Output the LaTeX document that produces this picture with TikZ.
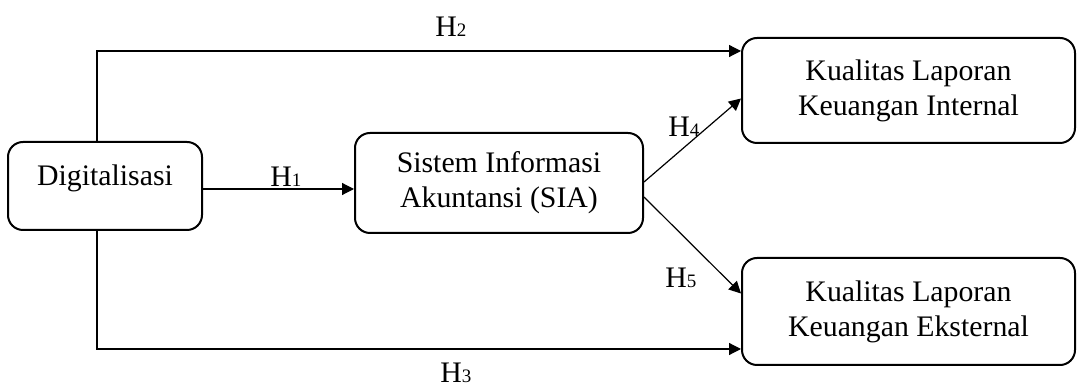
\documentclass[tikz,border=0pt]{standalone}
\usepackage{fontspec}
\setmainfont{Liberation Serif}
\usetikzlibrary{arrows.meta}

\newcommand\hsub[1]{{\fontsize{9.5}{10}\selectfont #1}}

\begin{document}
\begin{tikzpicture}[x=0.5pt,y=-0.5pt,
  varbox/.style={draw,line width=1pt,rounded corners=7.5pt,align=center,
    inner sep=0pt,font=\fontsize{14.9}{17.5}\selectfont},
  hlab/.style={inner sep=0pt,anchor=base west,font=\fontsize{14.9}{17.5}\selectfont},
  arr/.style={line width=0.6pt,-{Triangle[length=6pt,width=6pt]}}]
\useasboundingbox (0,0) rectangle (1077,389);
%variables
  \node[varbox,minimum width=97pt,minimum height=44pt] (dig) at (105,186) {\raisebox{11pt}{Digitalisasi}};
  \node[varbox,minimum width=144pt,minimum height=50pt] (sia) at (499,183) {Sistem Informasi\\Akuntansi (SIA)};
  \node[varbox,minimum width=166.5pt,minimum height=52.5pt] (kli) at (908.5,90.5) {Kualitas Laporan\\Keuangan Internal};
  \node[varbox,minimum width=166.5pt,minimum height=53.5pt] (kle) at (908.5,311.5) {Kualitas Laporan\\Keuangan Eksternal};
%corners
  \coordinate (c2) at (97,51);
  \coordinate (c3) at (97,349);
%H1
  \draw[arr] ([yshift=-1.5pt]dig.east) -- ([yshift=-1.5pt]dig.east -| sia.west);
  \node[hlab] (h1) at (270,187) {H\hsub{1}};
%H2
  \draw[arr] (dig.north -| c2) -- (c2) -- (c2 -| kli.west);
  \node[hlab] (h2) at (435,37) {H\hsub{2}};
%H3
  \draw[arr] (dig.south -| c3) -- (c3) -- (c3 -| kle.west);
  \node[hlab] (h3) at (440,383) {H\hsub{3}};
%H4
  \draw[arr] ([yshift=0.5pt]sia.east) -- ([yshift=-4pt]kli.west);
  \node[hlab] (h4) at (668,137) {H\hsub{4}};
%H5
  \draw[arr] ([yshift=-7pt]sia.east) -- ([yshift=9pt]kle.west);
  \node[hlab] (h5) at (665,288) {H\hsub{5}};
\end{tikzpicture}
\end{document}
